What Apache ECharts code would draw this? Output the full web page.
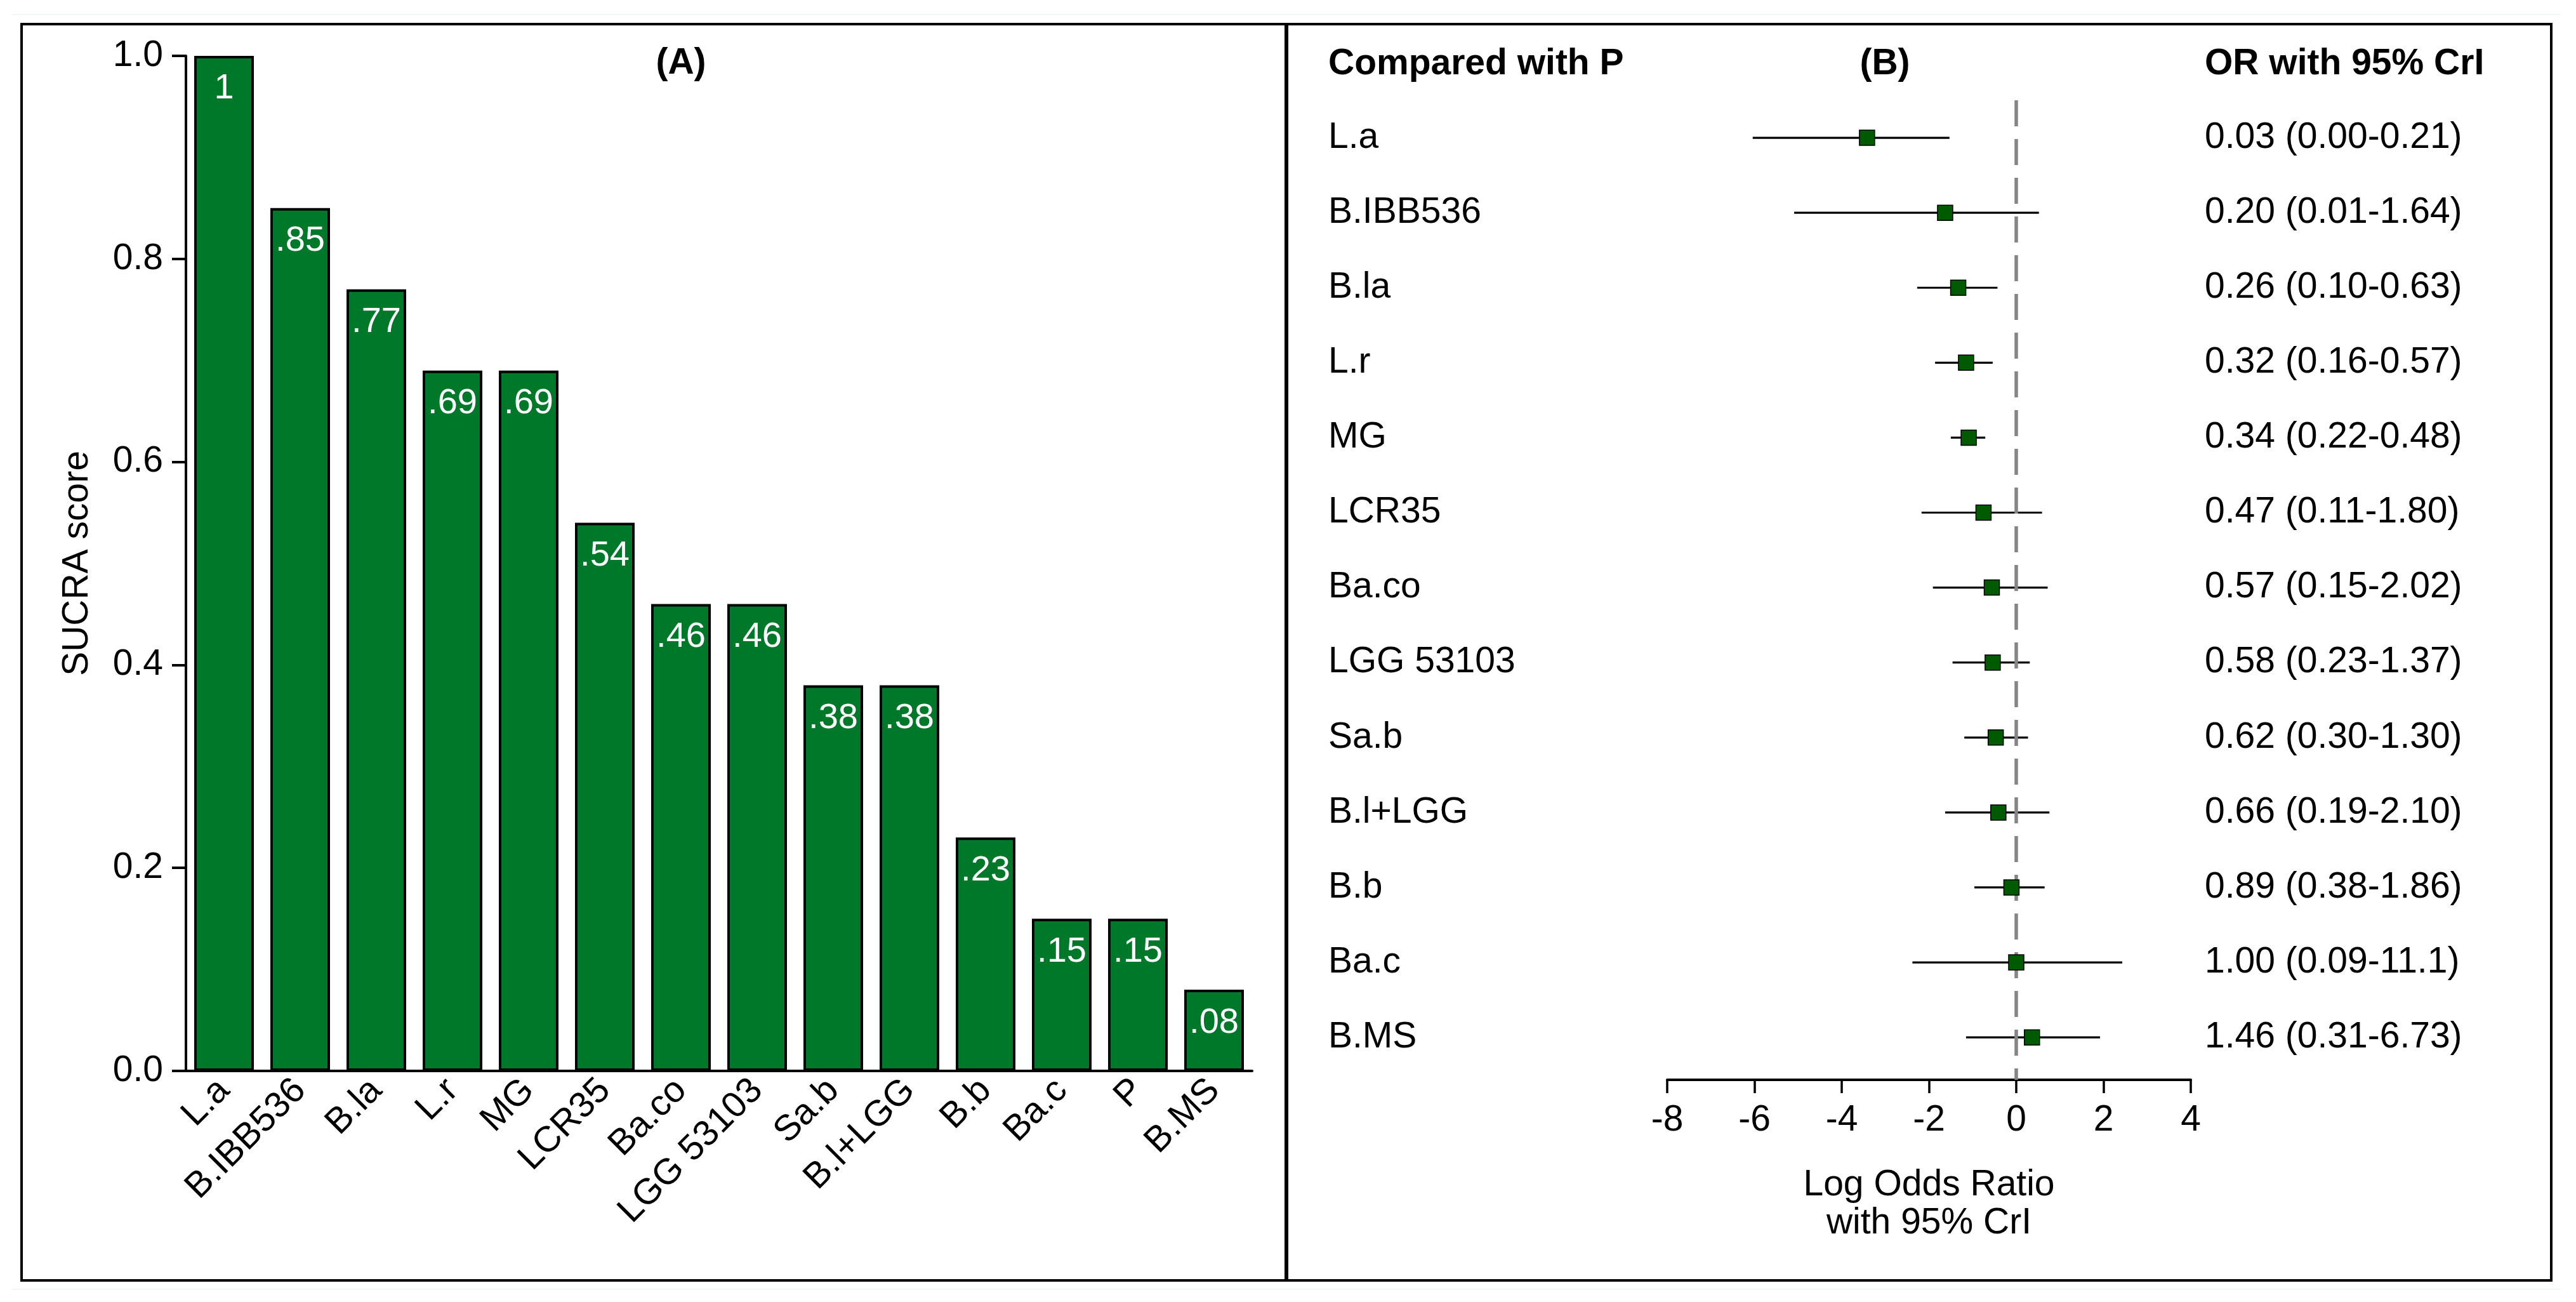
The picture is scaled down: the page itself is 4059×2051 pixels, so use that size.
<!DOCTYPE html>
<html>
<head>
<meta charset="utf-8">
<script src="https://cdn.jsdelivr.net/npm/echarts@6/dist/echarts.min.js"></script>
<style>
html,body{margin:0;padding:0;background:#fff;}
#c{width:4059px;height:2051px;}
</style>
</head>
<body>
<div id="c"></div>
<script>
// ---- Panel A: SUCRA scores ----
const sucraCategories = ['L.a','B.IBB536','B.la','L.r','MG','LCR35','Ba.co','LGG 53103','Sa.b','B.l+LGG','B.b','Ba.c','P','B.MS'];
const sucraValues = [1, 0.85, 0.77, 0.69, 0.69, 0.54, 0.46, 0.46, 0.38, 0.38, 0.23, 0.15, 0.15, 0.08];
const sucraTicks = [0, 0.2, 0.4, 0.6, 0.8, 1.0];

// ---- Panel B: forest plot vs P ----
const forestLabels = ['L.a','B.IBB536','B.la','L.r','MG','LCR35','Ba.co','LGG 53103','Sa.b','B.l+LGG','B.b','Ba.c','B.MS'];
const logOR   = [-3.42, -1.63, -1.33, -1.15, -1.09, -0.75, -0.56, -0.54, -0.47, -0.41, -0.11, 0.00, 0.36];
const logLow  = [-6.04, -5.09, -2.27, -1.86, -1.50, -2.17, -1.91, -1.46, -1.19, -1.63, -0.96, -2.38, -1.15];
const logHigh = [-1.53,  0.52, -0.43, -0.54, -0.71,  0.59,  0.72,  0.31,  0.27,  0.76,  0.65,  2.43,  1.92];
const orText = ['0.03 (0.00-0.21)','0.20 (0.01-1.64)','0.26 (0.10-0.63)','0.32 (0.16-0.57)','0.34 (0.22-0.48)','0.47 (0.11-1.80)','0.57 (0.15-2.02)','0.58 (0.23-1.37)','0.62 (0.30-1.30)','0.66 (0.19-2.10)','0.89 (0.38-1.86)','1.00 (0.09-11.1)','1.46 (0.31-6.73)'];
const forestTicks = [-8, -6, -4, -2, 0, 2, 4];

const FONT = '"Liberation Sans", Arial, Helvetica, sans-serif';
const FS = 57;

const chart = echarts.init(document.getElementById('c'), null, {renderer: 'canvas'});

const errData = forestLabels.map((n, i) => [logLow[i], logHigh[i], i + 1]);
const ptData = forestLabels.map((n, i) => [logOR[i], i + 1]);

const option = {
  animation: false,
  backgroundColor: '#fff',
  textStyle: {fontFamily: FONT},
  grid: [
    {left: 293, top: 88, width: 1680, height: 1599, containLabel: false},
    {left: 2627, top: 158, width: 825, height: 1543, containLabel: false}
  ],
  xAxis: [
    {
      gridIndex: 0, type: 'category', data: sucraCategories,
      axisLine: {lineStyle: {color: '#000', width: 4}},
      axisTick: {show: false},
      axisLabel: {rotate: 45, interval: 0, margin: 22, color: '#000', fontSize: FS, fontFamily: FONT}
    },
    {
      gridIndex: 1, type: 'value', min: forestTicks[0], max: forestTicks[forestTicks.length - 1], interval: 2,
      axisLine: {onZero: false, lineStyle: {color: '#000', width: 4}},
      axisTick: {show: true, length: 21, lineStyle: {color: '#000', width: 3.5}},
      axisLabel: {margin: 36, color: '#000', fontSize: FS, fontFamily: FONT},
      splitLine: {show: false},
      name: 'Log Odds Ratio\nwith 95% CrI', nameLocation: 'middle', nameGap: 136,
      nameTextStyle: {color: '#000', fontSize: FS, fontFamily: FONT, lineHeight: 60}
    }
  ],
  yAxis: [
    {
      gridIndex: 0, type: 'value', min: sucraTicks[0], max: sucraTicks[sucraTicks.length - 1], interval: 0.2,
      axisLine: {show: true, lineStyle: {color: '#000', width: 4}},
      axisTick: {show: true, length: 22, lineStyle: {color: '#000', width: 4}},
      axisLabel: {margin: 36, color: '#000', fontSize: FS, fontFamily: FONT, formatter: v => v.toFixed(1)},
      splitLine: {show: false},
      name: 'SUCRA score', nameLocation: 'middle', nameGap: 142, nameRotate: 90,
      nameTextStyle: {color: '#000', fontSize: FS, fontFamily: FONT}
    },
    {
      gridIndex: 1, type: 'value', inverse: true, min: 0.5, max: 13.566,
      show: false, splitLine: {show: false}
    }
  ],
  series: [
    {
      type: 'bar', xAxisIndex: 0, yAxisIndex: 0, data: sucraValues,
      barWidth: 94,
      itemStyle: {color: '#00782a', borderColor: '#000', borderWidth: 4},
      label: {
        show: true, position: 'insideTop', distance: 24, color: '#fff', fontSize: 56, fontFamily: FONT,
        formatter: p => p.value === 1 ? '1' : p.value.toFixed(2).replace(/^0/, '')
      }
    },
    {
      type: 'custom', xAxisIndex: 1, yAxisIndex: 1, data: errData, clip: false,
      encode: {x: [0, 1], y: 2},
      renderItem: function (params, api) {
        const i = params.dataIndex;
        const row = api.value(2);
        const p1 = api.coord([api.value(0), row]);
        const p2 = api.coord([api.value(1), row]);
        return {
          type: 'group',
          children: [
            {type: 'line', shape: {x1: p1[0], y1: p1[1], x2: p2[0], y2: p2[1]}, style: {stroke: '#000', lineWidth: 3.2}},
            {type: 'text', x: 2093, y: p1[1], style: {text: forestLabels[i], fill: '#000', font: FS + 'px ' + FONT, textAlign: 'left', textVerticalAlign: 'middle'}},
            {type: 'text', x: 3474, y: p1[1], style: {text: orText[i], fill: '#000', font: FS + 'px ' + FONT, textAlign: 'left', textVerticalAlign: 'middle'}}
          ]
        };
      }
    },
    {
      type: 'scatter', xAxisIndex: 1, yAxisIndex: 1, data: ptData,
      symbol: 'rect', symbolSize: 24,
      itemStyle: {color: '#005a00', borderColor: '#000', borderWidth: 1.5, opacity: 1},
      z: 5,
      markLine: {
        silent: true, symbol: 'none',
        label: {show: false},
        lineStyle: {color: '#858585', width: 5.5, type: [41, 20], opacity: 1},
        data: [{xAxis: 0}]
      }
    }
  ],
  graphic: [
    {type: 'line', silent: true, shape: {x1: 19, y1: 23, x2: 4035, y2: 23}, style: {stroke: '#e6eded', lineWidth: 1}},
    {type: 'line', silent: true, shape: {x1: 19, y1: 2031, x2: 4035, y2: 2031}, style: {stroke: '#e6eded', lineWidth: 1}},
    {type: 'rect', silent: true, shape: {x: 34, y: 38, width: 3986, height: 1979}, style: {fill: 'none', stroke: '#000', lineWidth: 4}, z: 100},
    {type: 'line', silent: true, shape: {x1: 2027, y1: 38, x2: 2027, y2: 2017}, style: {stroke: '#000', lineWidth: 6}, z: 100},
    {type: 'text', x: 1073, y: 100, style: {text: '(A)', fill: '#000', font: 'bold ' + FS + 'px ' + FONT, textAlign: 'center', textVerticalAlign: 'middle'}},
    {type: 'text', x: 2093, y: 101, style: {text: 'Compared with P', fill: '#000', font: 'bold ' + FS + 'px ' + FONT, textAlign: 'left', textVerticalAlign: 'middle'}},
    {type: 'text', x: 2970, y: 101, style: {text: '(B)', fill: '#000', font: 'bold ' + FS + 'px ' + FONT, textAlign: 'center', textVerticalAlign: 'middle'}},
    {type: 'text', x: 3474, y: 101, style: {text: 'OR with 95% CrI', fill: '#000', font: 'bold ' + FS + 'px ' + FONT, textAlign: 'left', textVerticalAlign: 'middle'}}
  ]
};
chart.setOption(option);
</script>
</body>
</html>
